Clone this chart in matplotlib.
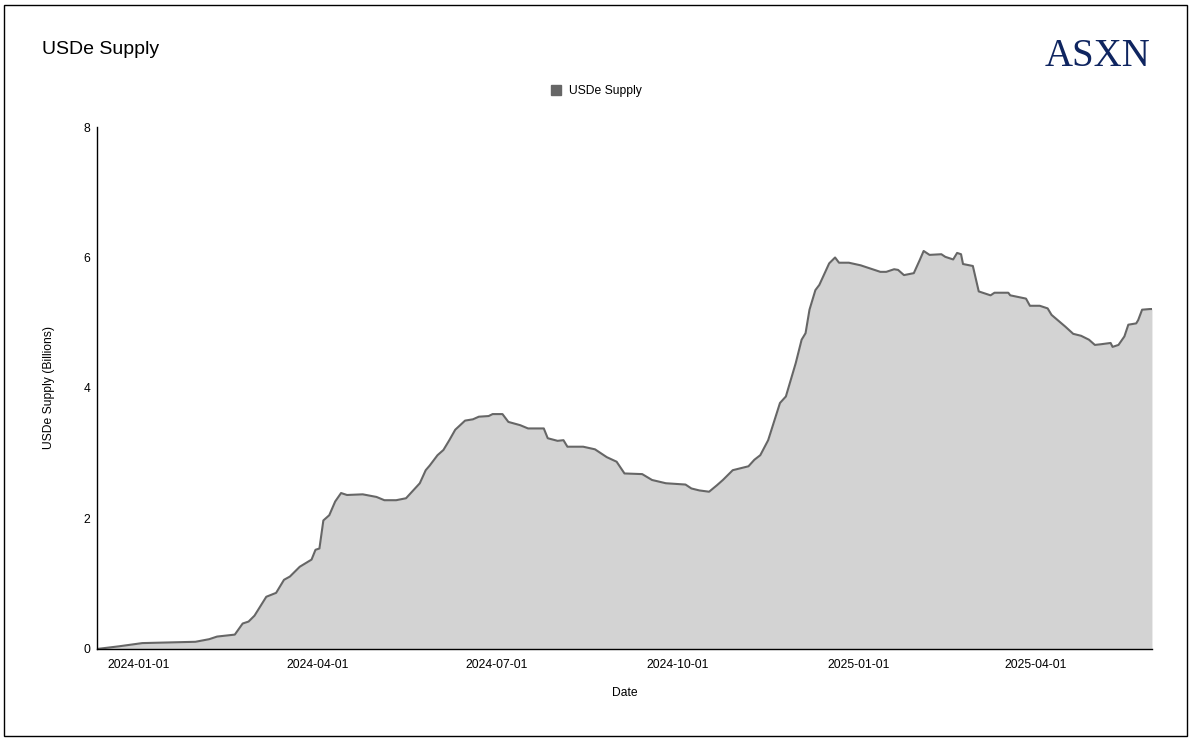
import pandas as pd
import matplotlib
matplotlib.use("Agg")
import matplotlib.pyplot as plt
import matplotlib.dates as mdates
from matplotlib.patches import Rectangle

plt.rcParams['font.family'] = ['Liberation Sans', 'DejaVu Sans']

# --- data (billions) ---
dates = [
    "2023-12-11", "2023-12-22", "2024-01-03", "2024-01-30", "2024-02-06", "2024-02-10",
    "2024-02-19", "2024-02-23", "2024-02-26", "2024-02-29", "2024-03-06", "2024-03-11",
    "2024-03-15", "2024-03-18", "2024-03-23", "2024-03-29", "2024-03-31", "2024-04-02",
    "2024-04-04", "2024-04-07", "2024-04-10", "2024-04-13", "2024-04-16", "2024-04-24",
    "2024-05-01", "2024-05-05", "2024-05-11", "2024-05-16", "2024-05-20", "2024-05-23",
    "2024-05-26", "2024-05-28", "2024-06-01", "2024-06-04", "2024-06-07", "2024-06-10",
    "2024-06-15", "2024-06-19", "2024-06-22", "2024-06-27", "2024-06-29", "2024-07-04",
    "2024-07-07", "2024-07-13", "2024-07-17", "2024-07-25", "2024-07-27", "2024-08-01",
    "2024-08-04", "2024-08-06", "2024-08-14", "2024-08-20", "2024-08-26", "2024-08-31",
    "2024-09-04", "2024-09-13", "2024-09-18", "2024-09-25", "2024-10-05", "2024-10-08",
    "2024-10-12", "2024-10-17", "2024-10-21", "2024-10-24", "2024-10-29", "2024-11-06",
    "2024-11-09", "2024-11-12", "2024-11-16", "2024-11-22", "2024-11-25", "2024-11-30",
    "2024-12-03", "2024-12-05", "2024-12-07", "2024-12-10", "2024-12-12", "2024-12-15",
    "2024-12-17", "2024-12-20", "2024-12-22", "2024-12-27", "2025-01-02", "2025-01-07",
    "2025-01-12", "2025-01-15", "2025-01-19", "2025-01-21", "2025-01-24", "2025-01-29",
    "2025-02-01", "2025-02-03", "2025-02-06", "2025-02-12", "2025-02-14", "2025-02-18",
    "2025-02-20", "2025-02-22", "2025-02-23", "2025-02-28", "2025-03-03", "2025-03-07",
    "2025-03-09", "2025-03-11", "2025-03-18", "2025-03-19", "2025-03-27", "2025-03-29",
    "2025-04-03", "2025-04-07", "2025-04-09", "2025-04-14", "2025-04-16", "2025-04-20",
    "2025-04-24", "2025-04-28", "2025-05-01", "2025-05-04", "2025-05-09", "2025-05-10",
    "2025-05-13", "2025-05-16", "2025-05-18", "2025-05-22", "2025-05-23", "2025-05-25",
    "2025-05-29", "2025-05-30",
]
supply = [
    0.00, 0.04, 0.09, 0.11, 0.15, 0.19,
    0.22, 0.39, 0.42, 0.51, 0.80, 0.86,
    1.06, 1.11, 1.26, 1.37, 1.52, 1.54,
    1.97, 2.05, 2.26, 2.39, 2.36, 2.37,
    2.33, 2.28, 2.28, 2.31, 2.44, 2.54,
    2.74, 2.81, 2.97, 3.05, 3.20, 3.36,
    3.50, 3.52, 3.56, 3.57, 3.60, 3.60,
    3.48, 3.43, 3.38, 3.38, 3.23, 3.19,
    3.20, 3.10, 3.10, 3.06, 2.94, 2.87,
    2.69, 2.68, 2.59, 2.54, 2.52, 2.46,
    2.43, 2.41, 2.51, 2.59, 2.74, 2.80,
    2.90, 2.97, 3.20, 3.77, 3.87, 4.38,
    4.74, 4.84, 5.20, 5.50, 5.58, 5.78,
    5.91, 6.00, 5.92, 5.92, 5.88, 5.83,
    5.78, 5.78, 5.82, 5.81, 5.73, 5.76,
    5.96, 6.10, 6.04, 6.05, 6.01, 5.97,
    6.07, 6.05, 5.90, 5.87, 5.48, 5.44,
    5.42, 5.46, 5.46, 5.42, 5.37, 5.26,
    5.26, 5.22, 5.12, 4.99, 4.94, 4.83,
    4.80, 4.74, 4.66, 4.67, 4.69, 4.63,
    4.66, 4.79, 4.97, 4.99, 5.04, 5.20,
    5.21, 5.21,
]
x_ticks = ["2024-01-01", "2024-04-01", "2024-07-01", "2024-10-01", "2025-01-01", "2025-04-01"]
y_ticks = [0, 2, 4, 6, 8]

df = pd.DataFrame({"date": pd.to_datetime(dates), "supply": supply})

fig = plt.figure(figsize=(11.92, 7.41), dpi=100)
ax = fig.add_axes([0.0814, 0.1242, 0.885, 0.7044])

ax.fill_between(df["date"], df["supply"], 0, color="#d3d3d3", linewidth=0)
ax.plot(df["date"], df["supply"], color="#666666", linewidth=1.5)

ax.set_xlim(df["date"].iloc[0], df["date"].iloc[-1])
ax.set_ylim(0, 8)
ax.set_xticks(pd.to_datetime(x_ticks))
ax.xaxis.set_major_formatter(mdates.DateFormatter("%Y-%m-%d"))
ax.set_yticks(y_ticks)
ax.tick_params(axis="both", length=0, labelsize=8.7, colors="black")
ax.tick_params(axis="x", pad=7)
ax.tick_params(axis="y", pad=5)

for s in ["top", "right"]:
    ax.spines[s].set_visible(False)
for s in ["left", "bottom"]:
    ax.spines[s].set_color("black")
    ax.spines[s].set_linewidth(1)

ax.set_xlabel("Date", fontsize=8.7, labelpad=12)
ax.set_ylabel("USDe Supply (Billions)", fontsize=8.7, labelpad=20)

# --- legend, title, logo, border ---
leg = ax.legend(
    handles=[plt.Rectangle((0, 0), 1, 1, color="#666666")], labels=["USDe Supply"],
    loc="center", bbox_to_anchor=(596 / 1192, 1 - 91 / 741), bbox_transform=fig.transFigure,
    frameon=False, fontsize=8.7, handlelength=0.9, handleheight=0.9, handletextpad=0.6,
)

fig.text(42 / 1192, 1 - 50 / 741, "USDe Supply", fontsize=14, va="center", ha="left")
fig.text(1150 / 1192, 1 - 56 / 741, "ASXN", fontsize=28, va="center", ha="right",
         family=["Liberation Serif", "DejaVu Serif"], color="#0f2560")

fig.patches.append(Rectangle((4 / 1192, 5 / 741), 1183 / 1192, 731 / 741,
                             transform=fig.transFigure, fill=False,
                             edgecolor="black", linewidth=1))

fig.savefig("out.png", dpi=100)
